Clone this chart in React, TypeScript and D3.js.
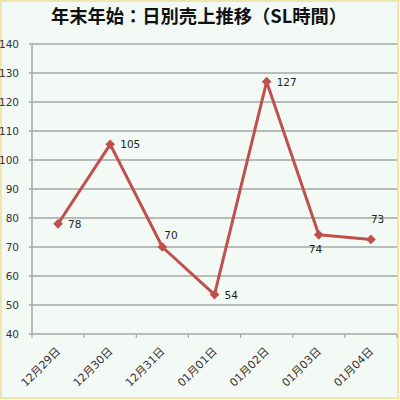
import React from "react";
import * as d3 from "d3";

const title = "年末年始：日別売上推移（SL時間）";
const categories = ["12月29日", "12月30日", "12月31日", "01月01日", "01月02日", "01月03日", "01月04日"];
const values = [78, 105.4, 70, 53.6, 127, 74.2, 72.6];
const yTicks = [40, 50, 60, 70, 80, 90, 100, 110, 120, 130, 140];
// label placement per point: [dx, dy, anchor]
const labelPos: [number, number, string][] = [
  [10, 4, "start"],
  [10, 4, "start"],
  [2, -8, "start"],
  [10, 4, "start"],
  [10, 4, "start"],
  [-10, 18, "start"],
  [0, -16, "start"],
];

const W = 400;
const H = 400;
const left = 32;
const right = 397;
const top = 44;
const bottom = 334;
const red = "#c0504d";
const grid = "#a6a6a6";
const font = "'DejaVu Sans', 'Noto Sans CJK JP', sans-serif";

export default function App() {
  const x = d3.scaleBand<string>().domain(categories).range([left, right]);
  const y = d3.scaleLinear().domain([40, 140]).range([bottom, top]);
  const cx = (c: string) => (x(c) ?? 0) + x.bandwidth() / 2;
  const line = d3
    .line<number>()
    .x((_, i) => cx(categories[i]))
    .y((v) => y(v));
  const diamond = d3.symbol().type(d3.symbolDiamond2).size(60)();
  const tickXs = [...categories.map((c) => x(c) ?? 0), right];

  return (
    <svg width={W} height={H} style={{ position: "fixed", left: 0, top: 0 }} xmlns="http://www.w3.org/2000/svg">
      <rect x={0} y={0} width={W} height={H} fill="#f3faf6" />
      <rect x={1} y={1} width={W - 3} height={H - 3} fill="none" stroke="#efe6ad" strokeWidth={2} />
      <text
        x={199}
        y={23}
        textAnchor="middle"
        fontFamily="'Noto Sans CJK JP', sans-serif"
        fontWeight="bold"
        fontSize={18.3}
        fill="#111"
      >
        {title}
      </text>
      {yTicks.map((t) => (
        <g key={t}>
          <line x1={29} x2={right} y1={y(t)} y2={y(t)} stroke={grid} strokeWidth={1.5} />
          <text x={19} y={y(t) + 4} textAnchor="end" fontFamily={font} fontSize={10.5} fill="#333">
            {t}
          </text>
        </g>
      ))}
      <line x1={left} x2={left} y1={top} y2={bottom} stroke={grid} strokeWidth={1.5} />
      {tickXs.map((tx, i) => (
        <line key={i} x1={tx} x2={tx} y1={bottom} y2={bottom + 4} stroke={grid} strokeWidth={1.2} />
      ))}
      {categories.map((c) => (
        <text
          key={c}
          transform={`translate(${cx(c) + 3},${bottom + 18}) rotate(-45)`}
          textAnchor="end"
          fontFamily={font}
          fontSize={11}
          fill="#333"
        >
          {c}
        </text>
      ))}
      <path d={line(values) ?? ""} fill="none" stroke={red} strokeWidth={3} strokeLinejoin="round" />
      {values.map((v, i) => (
        <path key={i} d={diamond ?? ""} transform={`translate(${cx(categories[i])},${y(v)})`} fill={red} />
      ))}
      {values.map((v, i) => (
        <text
          key={i}
          x={cx(categories[i]) + labelPos[i][0]}
          y={y(v) + labelPos[i][1]}
          textAnchor={labelPos[i][2]}
          fontFamily={font}
          fontSize={10.5}
          fill="#222"
        >
          {Math.round(v)}
        </text>
      ))}
    </svg>
  );
}
